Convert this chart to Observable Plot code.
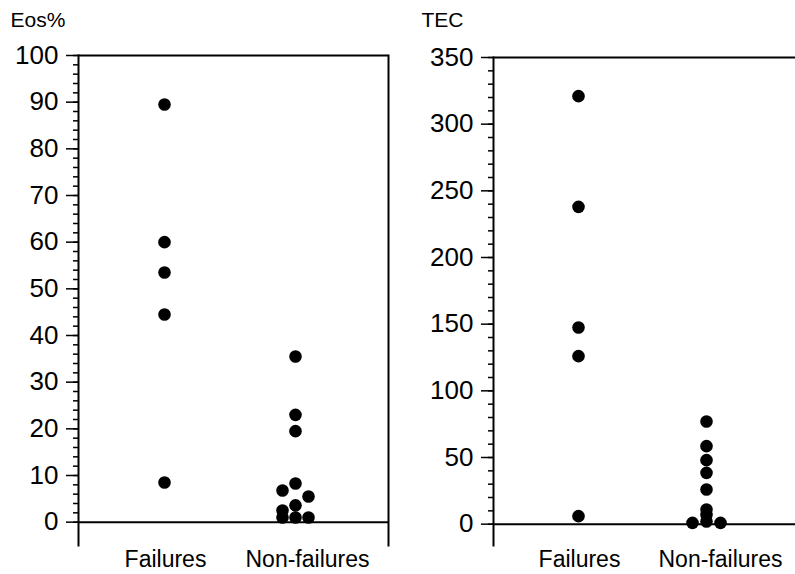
<!DOCTYPE html>
<html>
<head>
<meta charset="utf-8">
<script src="https://cdn.jsdelivr.net/npm/d3@7"></script>
<script src="https://cdn.jsdelivr.net/npm/@observablehq/plot@0.6"></script>
<style>
  html, body { margin: 0; padding: 0; background: #fff; }
  #wrap { display: flex; width: 795px; height: 574px; }
  svg { font-family: "Liberation Sans", Arial, Helvetica, sans-serif; }
</style>
</head>
<body>
<div id="wrap"></div>
<script>
// ---- data ----
const groups = ["Failures", "Non-failures"];

const eosFailures = [89.5, 60, 53.5, 44.5, 8.5];
const eosNonFailures = [35.5, 23, 19.5, 8.3, 6.8, 5.5, 3.6, 2.5, 1, 1, 1];
const eosNonFailuresCol = [0, 0, 0, 0, -1, 1, 0, -1, -1, 0, 1];

const tecFailures = [321, 238, 147.5, 126, 6];
const tecNonFailures = [77, 58.5, 48, 38.5, 26, 11, 7, 2, 1, 1];
const tecNonFailuresCol = [0, 0, 0, 0, 0, 0, 0, 0, -1, 1];

const eosTicks = d3.range(0, 101, 10);
const eosMinor = d3.range(0, 101, 2);
const tecTicks = d3.range(0, 351, 50);
const tecMinor = d3.range(0, 351, 10);

function table(fail, non, nonCol) {
  return [
    ...fail.map(v => ({group: groups[0], value: v, col: 0})),
    ...non.map((v, i) => ({group: groups[1], value: v, col: nonCol[i]}))
  ];
}

function panel({data, width, marginLeft, marginRight, marginTop, yDomain, xRange,
                ticks, minor, title, titleDx, titleDy, colStep, labelDx, box}) {
  const marks = [
    Plot.axisY({ticks: minor, tickSize: 5, tickFormat: () => "", label: null, stroke: "black", strokeWidth: 1.5}),
    Plot.axisY({ticks, tickSize: 12, tickPadding: 8, fontSize: 26, label: null, stroke: "black", strokeWidth: 1.5, fill: "black"}),
    Plot.ruleY([0], {stroke: "black", strokeWidth: 2}),
    Plot.ruleY([yDomain[1]], {stroke: "black", strokeWidth: 2}),
    Plot.frame({anchor: "left", stroke: "black", strokeWidth: 2}),
    Plot.axisX([groups[0]], {tickSize: 0, tickPadding: 5, fontSize: 23, label: null, dx: labelDx[0], fill: "black"}),
    Plot.axisX([groups[1]], {tickSize: 0, tickPadding: 5, fontSize: 23, label: null, dx: labelDx[1], fill: "black"}),
    ...[-1, 0, 1].map(c => Plot.dot(data, {
      x: "group", y: "value", filter: d => d.col === c, dx: c * colStep,
      r: 6.3, fill: "black", stroke: "none"
    })),
    Plot.text([title], {frameAnchor: "top-left", dx: titleDx, dy: titleDy,
      textAnchor: "start", lineAnchor: "middle", fontSize: 21, fill: "black"})
  ];
  if (box) marks.push(Plot.frame({anchor: "right", stroke: "black", strokeWidth: 2}));
  return Plot.plot({
    width, height: 574,
    marginLeft, marginRight, marginTop, marginBottom: 29,
    style: {background: "white", color: "black", overflow: "visible"},
    x: {type: "point", domain: groups, range: xRange, padding: 0, axis: null},
    y: {domain: yDomain, axis: null},
    marks
  });
}

const left = panel({
  data: table(eosFailures, eosNonFailures, eosNonFailuresCol),
  width: 400, marginLeft: 78, marginRight: 12, marginTop: 55,
  yDomain: [-5, 100], xRange: [164, 295],
  ticks: eosTicks, minor: eosMinor,
  title: "Eos%", titleDx: -68, titleDy: -35, colStep: 13,
  labelDx: [1, 12], box: true
});

const right = panel({
  data: table(tecFailures, tecNonFailures, tecNonFailuresCol),
  width: 395, marginLeft: 93, marginRight: 0, marginTop: 57,
  yDomain: [-16, 350], xRange: [178, 306],
  ticks: tecTicks, minor: tecMinor,
  title: "TEC", titleDx: -72, titleDy: -37, colStep: 14,
  labelDx: [1, 14], box: false
});

document.getElementById("wrap").append(left, right);
</script>
</body>
</html>
